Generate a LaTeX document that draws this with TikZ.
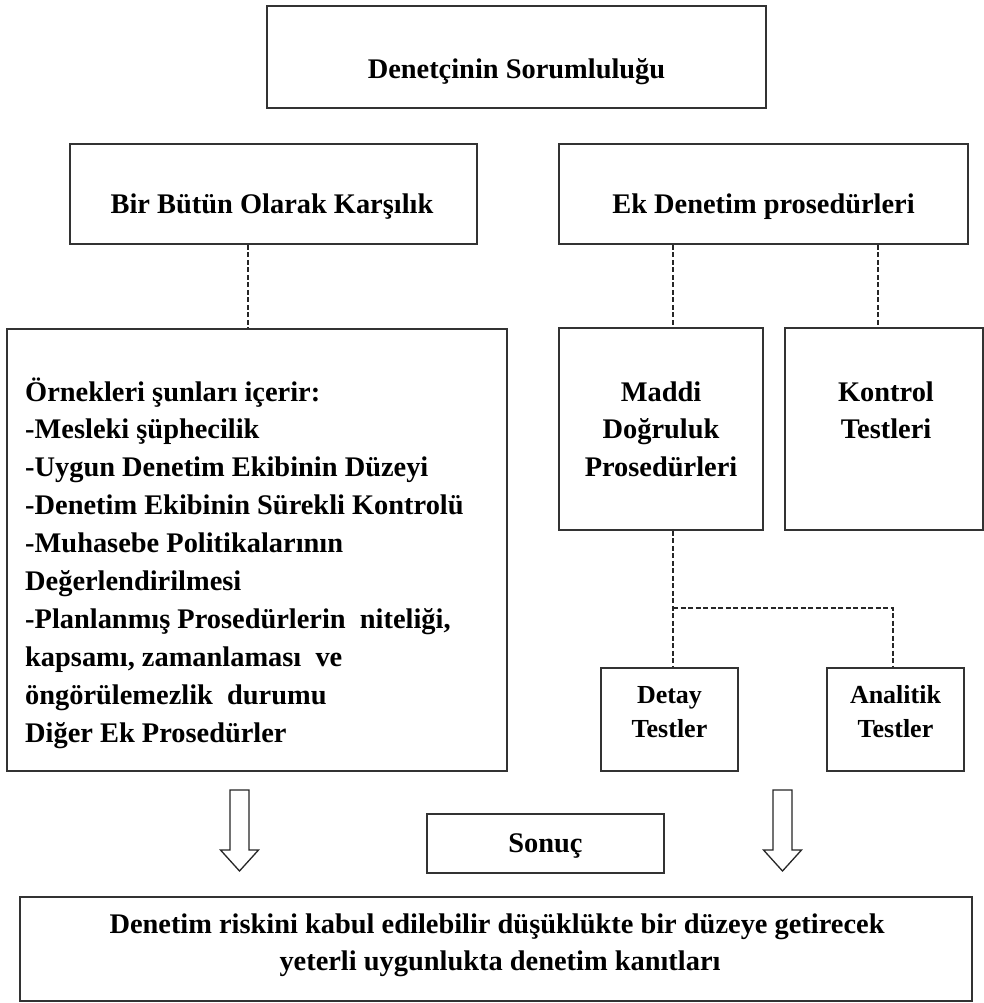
\documentclass[tikz,border=0pt]{standalone}
\usepackage{fontspec}
\setmainfont{Liberation Serif}
\begin{document}
\begin{tikzpicture}[x=1pt,y=-1pt,
  box/.style={draw=black!80, line width=1.6pt, rectangle, inner sep=0pt},
  conn/.style={draw=black!85, line width=1.3pt, dash pattern=on 5pt off 2.5pt},
  lbl/.style={font=\fontsize{28.4}{34}\selectfont\bfseries, inner sep=0pt, anchor=base},
  slbl/.style={lbl, font=\fontsize{26}{31}\selectfont\bfseries},
  leftlbl/.style={lbl, anchor=base west},
  blockarrow/.style={draw=black!85, line width=1.3pt, fill=white, line join=miter}
]
\useasboundingbox (0,0) rectangle (984,1003);

% boxes
\node[box, minimum width=499, minimum height=102] (top) at (516.5,57) {};
\node[box, minimum width=407, minimum height=100] (bb) at (273.5,194) {};
\node[box, minimum width=409, minimum height=100] (ek) at (763.5,194) {};
\node[box, minimum width=500, minimum height=442] (big) at (257,550) {};
\node[box, minimum width=204, minimum height=202] (md) at (661,429) {};
\node[box, minimum width=198, minimum height=202] (kt) at (884,429) {};
\node[box, minimum width=137, minimum height=103] (dt) at (669.5,719.5) {};
\node[box, minimum width=137, minimum height=103] (an) at (895.5,719.5) {};
\node[box, minimum width=237, minimum height=59] (sn) at (545.5,843.5) {};
\node[box, minimum width=952, minimum height=104] (bt) at (496,949) {};

% texts
\node[lbl] (topT) at (516.5,79) {Denetçinin Sorumluluğu};
\node[lbl] (bbT) at (272,213) {Bir Bütün Olarak Karşılık};
\node[lbl] (ekT) at (763.5,213) {Ek Denetim prosedürleri};

\node[leftlbl] (g1) at (25,401) {Örnekleri şunları içerir:};
\node[leftlbl] (g2) at (25,438.9) {-Mesleki şüphecilik};
\node[leftlbl] (g3) at (25,476.8) {-Uygun Denetim Ekibinin Düzeyi};
\node[leftlbl] (g4) at (25,514.7) {-Denetim Ekibinin Sürekli Kontrolü};
\node[leftlbl] (g5) at (25,552.6) {-Muhasebe Politikalarının};
\node[leftlbl] (g6) at (25,590.5) {Değerlendirilmesi};
\node[leftlbl] (g7) at (25,628.4) {-Planlanmış Prosedürlerin\ \ niteliği,};
\node[leftlbl] (g8) at (25,666.3) {kapsamı, zamanlaması\ \ ve};
\node[leftlbl] (g9) at (25,704.2) {öngörülemezlik\ \ durumu};
\node[leftlbl] (g10) at (25,742.1) {Diğer Ek Prosedürler};

\node[lbl] (md1) at (661,401) {Maddi};
\node[lbl] (md2) at (661,438.5) {Doğruluk};
\node[lbl] (md3) at (661,476.5) {Prosedürleri};

\node[lbl] (kt1) at (886,401) {Kontrol};
\node[lbl] (kt2) at (886,438.5) {Testleri};

\node[slbl] (dt1) at (669.5,703) {Detay};
\node[slbl] (dt2) at (669.5,737) {Testler};
\node[slbl] (an1) at (895.5,703) {Analitik};
\node[slbl] (an2) at (895.5,737) {Testler};

\node[lbl] (snT) at (545.5,852) {Sonuç};

\node[lbl] (bt1) at (497,933) {Denetim riskini kabul edilebilir düşüklükte bir düzeye getirecek};
\node[lbl] (bt2) at (500,970) {yeterli uygunlukta denetim kanıtları};

% connector columns
\coordinate (c1) at (248,0);
\coordinate (c2) at (673,0);
\coordinate (c3) at (878,0);
\coordinate (c4) at (893,0);
\coordinate (j) at (673,608);

\draw[conn] (bb.south -| c1) -- (big.north -| c1);
\draw[conn] (ek.south -| c2) -- (md.north -| c2);
\draw[conn] (ek.south -| c3) -- (kt.north -| c3);
\draw[conn] (md.south -| c2) -- (dt.north -| c2);
\draw[conn] (j) -| (an.north -| c4);

% open block arrows
\coordinate (arL) at (239.5,790);
\coordinate (arR) at (782.5,790);
\draw[blockarrow] (arL) ++(-9.5,0) -- ++(19,0) -- ++(0,60) -- ++(9.5,0) -- ++(-19,21) -- ++(-19,-21) -- ++(9.5,0) -- cycle;
\draw[blockarrow] (arR) ++(-9.5,0) -- ++(19,0) -- ++(0,60) -- ++(9.5,0) -- ++(-19,21) -- ++(-19,-21) -- ++(9.5,0) -- cycle;
\end{tikzpicture}
\end{document}
